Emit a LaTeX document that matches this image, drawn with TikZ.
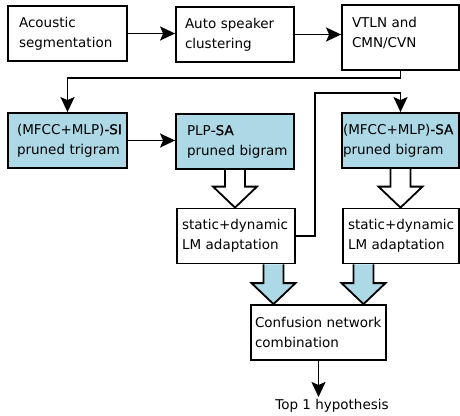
\documentclass[tikz,border=0pt]{standalone}
\usepackage{fontspec}
\setmainfont{DejaVu Sans}
\newfontfamily\heavyfont{DejaVu Sans}[FakeBold=0.8]
\usepackage{tikz}
\usetikzlibrary{arrows.meta,positioning,calc,backgrounds}
\definecolor{lmBlue}{HTML}{ADD8E6}

% block arrow from #2 down to #3, filled with #1
\newcommand{\fatarrow}[3]{%
  \draw[line width=1.8pt,fill=#1,line join=miter]
    ($(#2)+(-10,0)$) -- ($(#3)+(-10,-21)$) -- ($(#3)+(-22,-21)$) -- (#3)
    -- ($(#3)+(22,-21)$) -- ($(#3)+(10,-21)$) -- ($(#2)+(10,0)$);}

\begin{document}
\begin{tikzpicture}[x=1pt,y=-1pt,>={Stealth[length=15pt,width=14pt,inset=3pt]},
  font=\fontsize{13.5}{20}\selectfont,
  box/.style={draw,line width=1.8pt,fill=white,align=left,minimum height=55pt,inner ysep=0pt},
  lm/.style={box,fill=lmBlue},
  link/.style={->,line width=1.8pt}]
\useasboundingbox (0,0) rectangle (460,415);
% front end
\node[box,text width=97pt,inner xsep=11pt] (seg) at (67.5,33.5) {Acoustic\\segmentation};
\node[box,text width=100pt,inner xsep=9pt] (clus) at (235,34.5) {Auto speaker\\clustering};
\node[box,text width=97pt,inner xsep=10pt,minimum height=65pt] (vtln) at (400.5,37.5) {VTLN and\\CMN/CVN\\[-9pt]\mbox{}};
\draw[link] (seg.east) -- (seg.east -| clus.west);
\draw[link] (clus.east) -- (clus.east -| vtln.west);
% decoding passes
\node[lm,text width=101pt,inner xsep=9pt] (si) at (67.5,140.5) {\mbox{(MFCC+MLP){\heavyfont -SI}}\\\mbox{pruned trigram}};
\node[lm,text width=96pt,inner xsep=11pt] (plp) at (235,141.5) {PLP{\heavyfont -SA}\\\mbox{pruned bigram}};
\node[lm,text width=115pt,inner xsep=1pt] (sa) at (400.5,140.5) {\mbox{(MFCC+MLP){\heavyfont -SA}}\\\mbox{pruned bigram}};
\draw[link] (vtln.south) -- ++(0,7) -| (si.north);
\draw[link] (si.east) -- (si.east -| plp.west);
% adaptation
\node[box,text width=108pt,inner xsep=5pt] (adapt) at (236,236) {\mbox{static+dynamic}\\\mbox{LM adaptation}};
\node[box,text width=106pt,inner xsep=5pt] (adapt2) at (401,236) {\mbox{static+dynamic}\\\mbox{LM adaptation}};
\coordinate (up) at (315,93);
\draw[link] (adapt.east) -| (up) -| (sa.north);
% combination
\node[box,text width=127pt,inner xsep=4pt] (cnc) at (318.5,332.5) {\mbox{Confusion network}\\combination};
\node[anchor=north,inner sep=2pt] (out) at (332,397) {Top 1 hypothesis};
\draw[link] (cnc.south) -- (cnc.south |- out.north);
% block arrows
\coordinate (t1) at (plp.south |- adapt.north);
\coordinate (t2) at (sa.south |- adapt2.north);
\coordinate (m1) at ($(cnc.north)+(-45,0)$);
\coordinate (m2) at ($(cnc.north)+(45,0)$);
\coordinate (s1) at (adapt.south -| m1);
\coordinate (s2) at (adapt2.south -| m2);
\begin{scope}[on background layer]
\fatarrow{white}{plp.south}{t1}
\fatarrow{white}{sa.south}{t2}
\fatarrow{lmBlue}{s1}{m1}
\fatarrow{lmBlue}{s2}{m2}
\end{scope}
\end{tikzpicture}
\end{document}
